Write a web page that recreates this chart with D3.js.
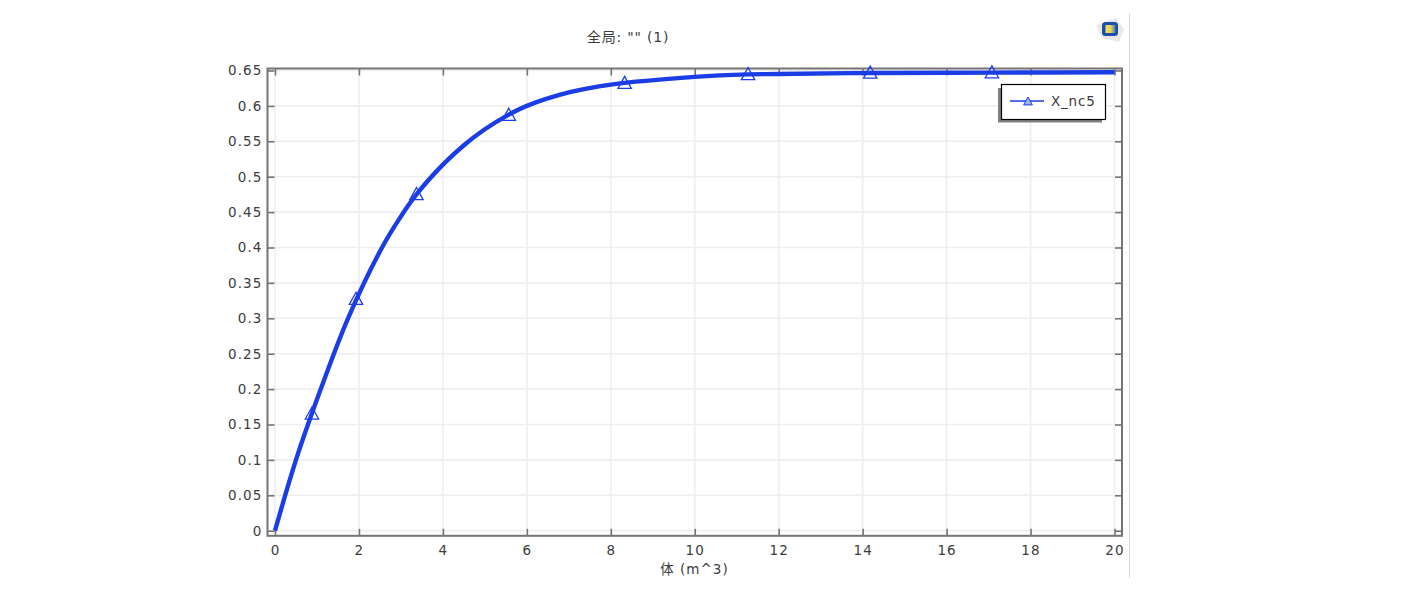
<!DOCTYPE html>
<html><head><meta charset="utf-8">
<script src="https://cdn.jsdelivr.net/npm/d3@7/dist/d3.min.js"></script>
<style>
html,body{margin:0;padding:0;background:#fff;overflow:hidden}
svg{display:block}
text{font-family:"DejaVu Sans","Noto Sans CJK SC",sans-serif;fill:#3c3c3c}
</style></head><body>
<svg id="c" width="1421" height="610"></svg>
<script>
const titleText = '全局: "" (1)';
const xLabel = '体 (m^3)';
const seriesName = 'X_nc5';
const xTicks = [0,2,4,6,8,10,12,14,16,18,20];
const yTicks = [0,0.05,0.1,0.15,0.2,0.25,0.3,0.35,0.4,0.45,0.5,0.55,0.6,0.65];
const curveX = [0,0.5,1.09,1.74,2.55,3,3.37,4,4.5,5,5.55,6,7,8,10,11.27,12,14.18,17.08,20];
const curveY = [0,0.1,0.2,0.3,0.4,0.444,0.475,0.517,0.5445,0.567,0.587,0.6,0.619,0.63,0.641,0.6445,0.645,0.6465,0.647,0.6475];
const markerX = [0.88,1.93,3.37,5.57,8.33,11.27,14.18,17.08];
const markerY = [0.165,0.327,0.475,0.587,0.632,0.6445,0.6465,0.647];

const BLUE = '#1b3de6', FRAME = '#757575', GRID = '#eeeeee';
const svg = d3.select('#c');
const x = d3.scaleLinear().domain([0,20]).range([275,1114.5]);
const y = d3.scaleLinear().domain([0,0.65]).range([530.7,70.5]);
const L=267.5,R=1122,T=68.5,B=535.8;

// grid
svg.append('g').selectAll('line').data(xTicks).join('line')
  .attr('x1',d=>x(d)).attr('x2',d=>x(d)).attr('y1',T).attr('y2',B)
  .attr('stroke',GRID).attr('stroke-width',1.6);
svg.append('g').selectAll('line').data(yTicks).join('line')
  .attr('x1',L).attr('x2',R).attr('y1',d=>y(d)).attr('y2',d=>y(d))
  .attr('stroke',GRID).attr('stroke-width',1.6);

// axes
function style(g,fs,ls){
  g.select('.domain').remove();
  g.selectAll('.tick line').attr('stroke',FRAME).attr('stroke-width',1.6);
  g.selectAll('text').attr('font-size',fs).style('letter-spacing',ls+'px');
}
const fmt = d=>String(d);
svg.append('g').attr('transform',`translate(${L},0)`)
  .call(d3.axisRight(y).tickValues(yTicks).tickSize(7).tickFormat(''))
  .call(g=>style(g,13,0));
svg.append('g').attr('transform',`translate(${R},0)`)
  .call(d3.axisLeft(y).tickValues(yTicks).tickSize(7).tickFormat(''))
  .call(g=>style(g,13,0));
svg.append('g').attr('transform',`translate(0,${T})`)
  .call(d3.axisBottom(x).tickValues(xTicks).tickSize(7).tickFormat(''))
  .call(g=>style(g,13,0));
svg.append('g').attr('transform',`translate(0,${B})`)
  .call(d3.axisTop(x).tickValues(xTicks).tickSize(7).tickFormat(''))
  .call(g=>style(g,13,0));
// labels
svg.append('g').attr('transform',`translate(${L-5},0)`)
  .call(d3.axisLeft(y).tickValues(yTicks).tickSize(0).tickPadding(0).tickFormat(fmt))
  .call(g=>style(g,13.5,1.1));
svg.append('g').attr('transform',`translate(0,${B+10})`)
  .call(d3.axisBottom(x).tickValues(xTicks).tickSize(0).tickPadding(0).tickFormat(fmt))
  .call(g=>style(g,13.5,1.1));

// frame
svg.append('rect').attr('x',L).attr('y',T).attr('width',R-L).attr('height',B-T)
  .attr('fill','none').attr('stroke',FRAME).attr('stroke-width',2);

// line
const pts = curveX.map((v,i)=>[v,curveY[i]]);
svg.append('path').datum(pts)
  .attr('d',d3.line().x(d=>x(d[0])).y(d=>y(d[1])).curve(d3.curveCatmullRom.alpha(0.5)))
  .attr('fill','none').attr('stroke',BLUE).attr('stroke-width',4.4).attr('stroke-linecap','butt');

// markers
const tri=(s)=>`M0,${-s*0.6}L${s*0.58},${s*0.45}L${-s*0.58},${s*0.45}Z`;
svg.append('g').selectAll('path').data(markerX).join('path')
  .attr('transform',(d,i)=>`translate(${x(d)},${y(markerY[i])})`)
  .attr('d',tri(11.5)).attr('fill','none').attr('stroke',BLUE).attr('stroke-width',1.3);

// title + x label
svg.append('text').attr('x',628).attr('y',42).attr('text-anchor','middle').attr('font-size',14).style('letter-spacing','0.8px').text(titleText);
svg.append('text').attr('x',694.5).attr('y',574).attr('text-anchor','middle').attr('font-size',13.5).style('letter-spacing','1px').text(xLabel);

// legend
const lg = svg.append('g');
lg.append('rect').attr('x',998).attr('y',88).attr('width',104).attr('height',34.5).attr('fill','#808080');
lg.append('rect').attr('x',1001.5).attr('y',84.5).attr('width',104).attr('height',35).attr('fill','#fff').attr('stroke','#000').attr('stroke-width',1.2);
lg.append('line').attr('x1',1010).attr('x2',1044).attr('y1',101).attr('y2',101).attr('stroke',BLUE).attr('stroke-width',1.4);
lg.append('path').attr('transform','translate(1028,101.5)').attr('d',tri(7.6)).attr('fill','#9fb0ef').attr('stroke',BLUE).attr('stroke-width',1);
lg.append('text').attr('x',1051).attr('y',106).attr('font-size',13.5).style('letter-spacing','0.8px').text(seriesName);

// right divider
svg.append('line').attr('x1',1129.5).attr('x2',1129.5).attr('y1',13).attr('y2',578).attr('stroke','#dcdcdc').attr('stroke-width',1);

// icon
const defs = svg.append('defs');
const grad = defs.append('linearGradient').attr('id','ic').attr('x1',0).attr('x2',1).attr('y1',0).attr('y2',0);
grad.append('stop').attr('offset','0').attr('stop-color','#f0e070');
grad.append('stop').attr('offset','0.55').attr('stop-color','#e8d050');
grad.append('stop').attr('offset','1').attr('stop-color','#3a78c8');
const ic = svg.append('g');
ic.append('path').attr('d','M1096,25L1116,18L1124,29L1119,42L1102,38Z').attr('fill','#e6e8ec');
ic.append('rect').attr('x',1102).attr('y',22).attr('width',16).attr('height',14).attr('rx',3.5).attr('fill','#1c4fa8');
ic.append('rect').attr('x',1105.5).attr('y',25).attr('width',10).attr('height',8).attr('fill','url(#ic)');
</script>
</body></html>
